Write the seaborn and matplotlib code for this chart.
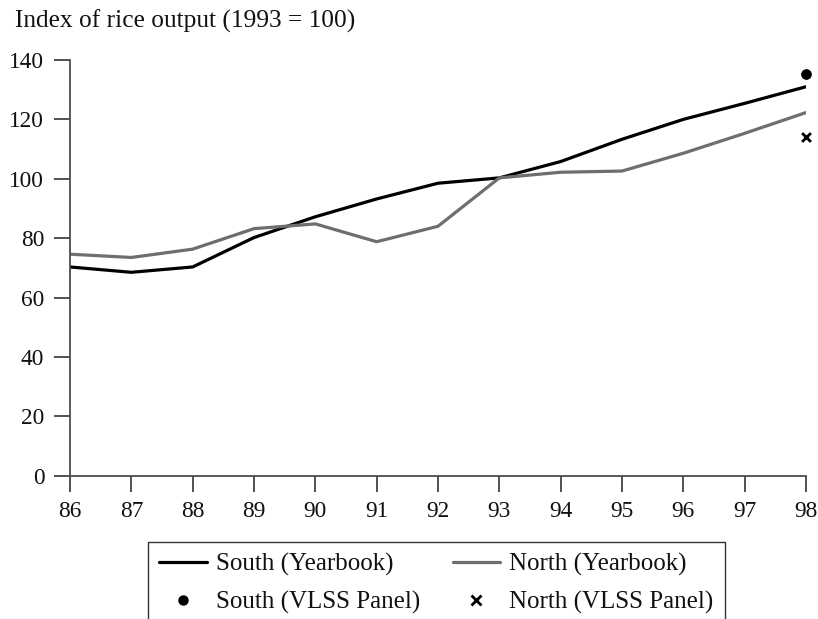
import numpy as np
import pandas as pd
import matplotlib
matplotlib.use("Agg")
import matplotlib.pyplot as plt
import seaborn as sns
from matplotlib.lines import Line2D

years = [86, 87, 88, 89, 90, 91, 92, 93, 94, 95, 96, 97, 98]
south_yearbook = [70.3, 68.5, 70.3, 80.2, 87.2, 93.2, 98.5, 100.3, 105.8, 113.3, 120.0, 125.4, 131.0]
north_yearbook = [74.6, 73.5, 76.3, 83.2, 84.8, 78.8, 84.0, 100.3, 102.2, 102.6, 108.6, 115.3, 122.3]
vlss_year = [98]
south_vlss = [135.2]
north_vlss = [114.0]
y_ticks = [0, 20, 40, 60, 80, 100, 120, 140]

sns.set_theme(style="white")
plt.rcParams['font.family'] = ['Liberation Serif', 'DejaVu Serif']

df = pd.DataFrame({
    "year": years * 2,
    "value": south_yearbook + north_yearbook,
    "series": ["South (Yearbook)"] * len(years) + ["North (Yearbook)"] * len(years),
})
palette = {"South (Yearbook)": "#000000", "North (Yearbook)": "#6e6e6e"}

fig = plt.figure(figsize=(8.18, 6.19), dpi=100)
ax = fig.add_axes([70 / 818, 143.3 / 619, (806 - 70) / 818, (475.7 - 60) / 619])

sns.lineplot(data=df, x="year", y="value", hue="series", palette=palette,
             linewidth=2.3, ax=ax, legend=False)
sns.scatterplot(x=vlss_year, y=south_vlss, color="black", marker="o", s=50,
                edgecolor="black", ax=ax, clip_on=False, zorder=5)
sns.scatterplot(x=vlss_year, y=north_vlss, color="black", marker="x", s=40,
                linewidth=2, ax=ax, clip_on=False, zorder=5)

ax.set_xlim(86, 98)
ax.set_ylim(0, 140)
ax.set_xticks(years)
ax.set_xticklabels([str(y) for y in years])
ax.set_yticks(y_ticks)
ax.set_xlabel("")
ax.set_ylabel("")
for s in ["top", "right"]:
    ax.spines[s].set_visible(False)
for s in ["left", "bottom"]:
    ax.spines[s].set_color("#4d4d4d")
    ax.spines[s].set_linewidth(1.3)
ax.tick_params(axis="both", direction="out", length=11.5, width=1.1,
               color="#222222", labelsize=16.8, pad=7, labelcolor="#111111",
               bottom=True, left=True)

fig.text(15 / 818, 1 - 21 / 619, "Index of rice output (1993 = 100)",
         fontsize=18.3, va="center", ha="left", color="#111111")

handles = [
    Line2D([], [], color="#000000", linewidth=2.3),
    Line2D([], [], color="black", marker="o", linestyle="none", markersize=6.5),
    Line2D([], [], color="#6e6e6e", linewidth=2.3),
    Line2D([], [], color="black", marker="x", linestyle="none", markersize=6.5,
           markeredgewidth=2),
]
labels = ["South (Yearbook)", "South (VLSS Panel)", "North (Yearbook)", "North (VLSS Panel)"]
leg = fig.legend(handles, labels, ncol=2, loc="upper left",
                 bbox_to_anchor=(148 / 818, 1 - 542 / 619),
                 frameon=True, fancybox=False, edgecolor="black",
                 fontsize=18, handlelength=1.9, handletextpad=0.36,
                 columnspacing=1.3, borderpad=0.45, labelspacing=0.6,
                 borderaxespad=0)
leg.get_frame().set_linewidth(1.0)
for t in leg.get_texts():
    t.set_color("#111111")

fig.savefig("out.png", dpi=100)
